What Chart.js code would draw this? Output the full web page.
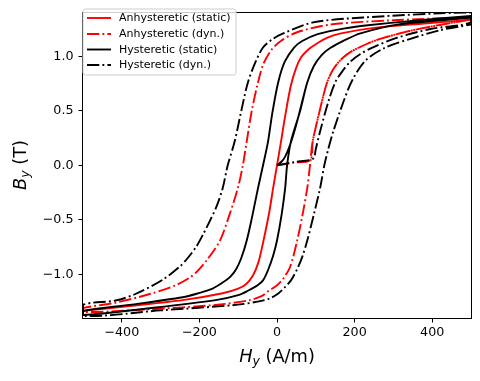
<!DOCTYPE html>
<html><head><meta charset="utf-8">
<script src="https://cdn.jsdelivr.net/npm/chart.js@4"></script>
<style>html,body{margin:0;padding:0;background:#fff}#wrap{width:480px;height:381px;position:relative}</style>
</head><body><div id="wrap"><canvas id="c" width="480" height="381"></canvas></div>
<script>
// ---- ticks / ranges ----
const xTicks = [-400, -200, 0, 200, 400];
const yTicks = [-1.0, -0.5, 0.0, 0.5, 1.0];
const xRange = [-500, 500];
const yRange = [-1.4, 1.4];
const seriesNames = ['Anhysteretic (static)', 'Anhysteretic (dyn.)', 'Hysteretic (static)', 'Hysteretic (dyn.)'];

// ---- Anhysteretic (static) ----
const anhStaticH = [-500,-380,-243,-140,-100,-80,-62,-48,-36,-20,-10,0,10,20,35,48,62,80,100,130,165,250,380,500];
const anhStaticB = [-1.335,-1.29,-1.236,-1.173,-1.13,-1.09,-1.01,-0.89,-0.71,-0.43,-0.21,0,0.21,0.43,0.72,0.88,0.99,1.06,1.11,1.17,1.21,1.26,1.30,1.335];

// ---- Anhysteretic (dyn.) ----
const anhDynInitH = [0,45,86,92,110,129,145,165,190,230,266,352,500];
const anhDynInitB = [0,0.025,0.05,0.22,0.5,0.76,0.88,0.97,1.04,1.11,1.16,1.24,1.34];
const anhDynDescH = [500,300,137,52,10,-14,-35,-49,-65,-78,-88,-101,-125,-147,-181,-205,-225,-261,-328,-416,-500];
const anhDynDescB = [1.355,1.33,1.29,1.22,1.14,1.06,0.93,0.76,0.5,0.22,0,-0.21,-0.48,-0.69,-0.87,-0.97,-1.03,-1.10,-1.18,-1.26,-1.31];
const anhDynAscH = [-500,-328,-158,-70,-40,-21,0,16,34,52,66,78,85,92,110,129,145,165,190,230,266,352,500];
const anhDynAscB = [-1.345,-1.32,-1.28,-1.236,-1.2,-1.15,-1.1,-1.04,-0.93,-0.69,-0.45,-0.21,0,0.22,0.5,0.76,0.88,0.97,1.04,1.11,1.16,1.24,1.34];

// ---- Hysteretic (static) ----
const hysStaticInitH = [0,12,21,34,47,59,78,95,115,137,176,215,310,500];
const hysStaticInitB = [0,0.035,0.08,0.19,0.34,0.5,0.76,0.91,1.01,1.075,1.15,1.21,1.29,1.355];
const hysStaticDescH = [500,222,150,103,65,44,20,3,-12,-23,-36,-49,-64,-78,-92,-105,-120,-140,-166,-200,-243,-380,-500];
const hysStaticDescB = [1.37,1.28,1.24,1.2,1.14,1.08,0.95,0.76,0.48,0.22,0,-0.21,-0.47,-0.69,-0.85,-0.95,-1.02,-1.075,-1.13,-1.17,-1.21,-1.28,-1.336];
const hysStaticAscH = [-500,-328,-158,-100,-75,-50,-36,-23,-10,0,12,21,26,36,59,78,95,115,137,176,215,310,500];
const hysStaticAscB = [-1.373,-1.31,-1.236,-1.19,-1.15,-1.1,-1.055,-0.96,-0.83,-0.69,-0.45,-0.21,0,0.22,0.49,0.76,0.91,1.01,1.075,1.15,1.21,1.29,1.355];

// ---- Hysteretic (dyn.) ----
const hysDynInitH = [0,45,93,100,111,132,150,170,189,215,246,310,396,500];
const hysDynInitB = [0,0.03,0.06,0.15,0.31,0.58,0.76,0.87,0.95,1.02,1.08,1.17,1.25,1.31];
const hysDynDescH = [500,222,93,16,-10,-36,-55,-75,-92,-109,-127,-140,-155,-173,-190,-207,-230,-251,-295,-365,-416,-500];
const hysDynDescB = [1.4,1.355,1.31,1.21,1.16,1.08,0.95,0.76,0.5,0.22,0,-0.21,-0.37,-0.51,-0.63,-0.74,-0.85,-0.93,-1.05,-1.18,-1.24,-1.28];
const hysDynAscH = [-500,-300,-106,-50,-18,5,20,36,54,66,78,95,111,122,133,145,171,194,228,279,344,422,500];
const hysDynAscB = [-1.38,-1.33,-1.28,-1.25,-1.22,-1.17,-1.12,-1.055,-0.936,-0.83,-0.69,-0.45,-0.21,0,0.16,0.31,0.58,0.78,0.96,1.08,1.16,1.24,1.29];

// ---- build library data from the arrays ----
function pts(...pairs) {
  const out = [];
  for (let k = 0; k < pairs.length; k += 2) {
    const H = pairs[k], B = pairs[k + 1];
    for (let i = 0; i < H.length; i++) out.push({x: H[i], y: B[i]});
  }
  return out;
}
const DASHDOT = [12.3, 3.1, 1.9, 3.1];
const LW = 1.9;
const styles = [
  {color: '#ff0000', dash: []},
  {color: '#ff0000', dash: DASHDOT},
  {color: '#000000', dash: []},
  {color: '#000000', dash: DASHDOT}
];
const dataSets = [
  pts(anhStaticH, anhStaticB),
  pts(anhDynInitH, anhDynInitB, anhDynDescH, anhDynDescB, anhDynAscH, anhDynAscB),
  pts(hysStaticInitH, hysStaticInitB, hysStaticDescH, hysStaticDescB, hysStaticAscH, hysStaticAscB),
  pts(hysDynInitH, hysDynInitB, hysDynDescH, hysDynDescB, hysDynAscH, hysDynAscB)
];

const FONT = "'DejaVu Sans', 'Liberation Sans', sans-serif";
const minus = s => s.replace('-', '\u2212');

const overlay = {
  id: 'overlay',
  afterDatasetsDraw(chart) {
    const ctx = chart.ctx, a = chart.chartArea;
    ctx.save();
    // spines
    ctx.strokeStyle = '#000'; ctx.lineWidth = 1; ctx.setLineDash([]);
    ctx.strokeRect(Math.round(a.left) - 0.5, Math.round(a.top) - 0.5, Math.round(a.right - a.left) + 1, Math.round(a.bottom - a.top) + 1);
    // legend
    const bx = 83, by = 9, bw = 153, bh = 66, r = 2.5;
    ctx.beginPath();
    ctx.moveTo(bx + r, by); ctx.lineTo(bx + bw - r, by); ctx.quadraticCurveTo(bx + bw, by, bx + bw, by + r);
    ctx.lineTo(bx + bw, by + bh - r); ctx.quadraticCurveTo(bx + bw, by + bh, bx + bw - r, by + bh);
    ctx.lineTo(bx + r, by + bh); ctx.quadraticCurveTo(bx, by + bh, bx, by + bh - r);
    ctx.lineTo(bx, by + r); ctx.quadraticCurveTo(bx, by, bx + r, by); ctx.closePath();
    ctx.fillStyle = 'rgba(255,255,255,0.8)'; ctx.fill();
    ctx.strokeStyle = '#cccccc'; ctx.lineWidth = 1; ctx.stroke();
    const rows = [18, 34, 49.5, 65];
    ctx.font = '11px ' + FONT; ctx.textBaseline = 'middle'; ctx.textAlign = 'left';
    for (let i = 0; i < 4; i++) {
      ctx.beginPath(); ctx.strokeStyle = styles[i].color; ctx.lineWidth = LW; ctx.lineCap = 'butt';
      ctx.setLineDash(styles[i].dash);
      ctx.moveTo(87, rows[i]); ctx.lineTo(111, rows[i]); ctx.stroke();
      ctx.setLineDash([]);
      ctx.fillStyle = '#000'; ctx.fillText(seriesNames[i], 119, rows[i] + 0.5);
    }
    // axis titles (math style)
    function mathLabel(x, y, main, sub, rest) {
      const fs = 17.8, sfs = fs * 0.7;
      ctx.font = 'italic ' + fs + 'px ' + FONT;
      const w1 = ctx.measureText(main).width;
      ctx.font = 'italic ' + sfs + 'px ' + FONT;
      const w2 = ctx.measureText(sub).width;
      ctx.font = fs + 'px ' + FONT;
      const w3 = ctx.measureText(rest).width;
      let sx = x - (w1 + w2 + w3) / 2;
      ctx.textAlign = 'left'; ctx.textBaseline = 'alphabetic'; ctx.fillStyle = '#000';
      ctx.font = 'italic ' + fs + 'px ' + FONT; ctx.fillText(main, sx, y); sx += w1;
      ctx.font = 'italic ' + sfs + 'px ' + FONT; ctx.fillText(sub, sx, y + 3.4); sx += w2;
      ctx.font = fs + 'px ' + FONT; ctx.fillText(rest, sx, y);
    }
    mathLabel(277, 361.5, 'H', 'y', ' (A/m)');
    ctx.save(); ctx.translate(26, 165); ctx.rotate(-Math.PI / 2);
    mathLabel(0, 0, 'B', 'y', ' (T)');
    ctx.restore();
    ctx.restore();
  }
};

new Chart(document.getElementById('c'), {
  type: 'scatter',
  data: {
    datasets: dataSets.map((d, i) => ({
      label: seriesNames[i], data: d, showLine: true, pointRadius: 0, pointHoverRadius: 0,
      borderColor: styles[i].color, backgroundColor: styles[i].color, borderWidth: LW,
      borderDash: styles[i].dash, borderCapStyle: 'butt', borderJoinStyle: 'round',
      tension: 0.3, clip: 0, order: 4 - i, fill: false
    }))
  },
  options: {
    responsive: false, animation: false, devicePixelRatio: 1,
    layout: {padding: {left: 0, right: 9, top: 10, bottom: 0}},
    plugins: {legend: {display: false}, tooltip: {enabled: false}},
    events: [],
    scales: {
      x: {
        type: 'linear', min: xRange[0], max: xRange[1],
        afterBuildTicks: s => { s.ticks = xTicks.map(v => ({value: v})); },
        afterFit: s => { s.height = 63; },
        ticks: {callback: v => minus(String(v)), font: {family: FONT, size: 12.7}, color: '#000', padding: 3, maxRotation: 0},
        grid: {display: true, drawOnChartArea: false, drawTicks: true, tickLength: 4.5, color: '#000', lineWidth: 1},
        border: {display: false}
      },
      y: {
        type: 'linear', min: yRange[0], max: yRange[1],
        afterBuildTicks: s => { s.ticks = yTicks.map(v => ({value: v})); },
        afterFit: s => { s.width = 83; },
        ticks: {callback: v => minus(Number(v).toFixed(1)), font: {family: FONT, size: 12.7}, color: '#000', padding: 5},
        grid: {display: true, drawOnChartArea: false, drawTicks: true, tickLength: 4.5, color: '#000', lineWidth: 1},
        border: {display: false}
      }
    }
  },
  plugins: [overlay]
});
</script>
</body></html>
